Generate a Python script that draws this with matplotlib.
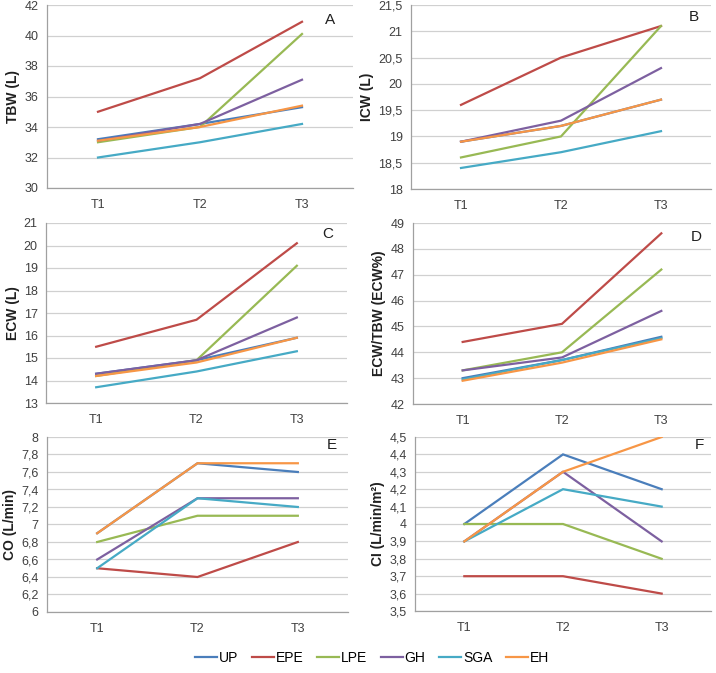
import numpy as np
import matplotlib
matplotlib.use('Agg')
import matplotlib.pyplot as plt
from matplotlib import ticker

plt.rcParams['font.family'] = ['Liberation Sans', 'DejaVu Sans']

times = ['T1', 'T2', 'T3']
groups = ['UP', 'EPE', 'LPE', 'GH', 'SGA', 'EH']
colors = ['#4A7EBB', '#BE4B48', '#98B954', '#7D60A0', '#46AAC5', '#F79646']

# panel A - TBW (L)
tbw = {
    'UP': [33.2, 34.2, 35.3],
    'EPE': [35.0, 37.2, 40.9],
    'LPE': [33.0, 34.0, 40.1],
    'GH': [33.1, 34.2, 37.1],
    'SGA': [32.0, 33.0, 34.2],
    'EH': [33.1, 34.0, 35.4],
}
# panel B - ICW (L)
icw = {
    'UP': [18.9, 19.2, 19.7],
    'EPE': [19.6, 20.5, 21.1],
    'LPE': [18.6, 19.0, 21.1],
    'GH': [18.9, 19.3, 20.3],
    'SGA': [18.4, 18.7, 19.1],
    'EH': [18.9, 19.2, 19.7],
}
# panel C - ECW (L)
ecw = {
    'UP': [14.3, 14.9, 15.9],
    'EPE': [15.5, 16.7, 20.1],
    'LPE': [14.2, 14.9, 19.1],
    'GH': [14.3, 14.9, 16.8],
    'SGA': [13.7, 14.4, 15.3],
    'EH': [14.2, 14.8, 15.9],
}
# panel D - ECW/TBW (ECW%)
ecw_pct = {
    'UP': [43.0, 43.7, 44.6],
    'EPE': [44.4, 45.1, 48.6],
    'LPE': [43.3, 44.0, 47.2],
    'GH': [43.3, 43.8, 45.6],
    'SGA': [42.95, 43.7, 44.55],
    'EH': [42.9, 43.6, 44.5],
}
# panel E - CO (L/min)
co = {
    'UP': [6.9, 7.7, 7.6],
    'EPE': [6.5, 6.4, 6.8],
    'LPE': [6.8, 7.1, 7.1],
    'GH': [6.6, 7.3, 7.3],
    'SGA': [6.5, 7.3, 7.2],
    'EH': [6.9, 7.7, 7.7],
}
# panel F - CI (L/min/m²)
ci = {
    'UP': [4.0, 4.4, 4.2],
    'EPE': [3.7, 3.7, 3.6],
    'LPE': [4.0, 4.0, 3.8],
    'GH': [3.9, 4.3, 3.9],
    'SGA': [3.9, 4.2, 4.1],
    'EH': [3.9, 4.3, 4.5],
}

W, H = 716, 673
fig = plt.figure(figsize=(W / 100, H / 100), dpi=100)

# (data, ylabel, letter, ylim, ystep, pixel box l, r, top, bottom, letter pos)
panels = [
    (tbw, 'TBW (L)', 'A', (30, 42), 2, (47, 353, 5, 188), (0.925, 0.92)),
    (icw, 'ICW (L)', 'B', (18, 21.5), 0.5, (411, 711, 5, 189), (0.943, 0.935)),
    (ecw, 'ECW (L)', 'C', (13, 21), 1, (46, 347, 223, 403), (0.937, 0.94)),
    (ecw_pct, 'ECW/TBW (ECW%)', 'D', (42, 49), 1, (413, 711, 223, 404), (0.95, 0.92)),
    (co, 'CO (L/min)', 'E', (6, 8), 0.2, (47, 348, 437, 612), (0.947, 0.954)),
    (ci, 'CI (L/min/m²)', 'F', (3.5, 4.5), 0.1, (415, 711, 437, 611), (0.96, 0.954)),
]

fmt = ticker.FuncFormatter(lambda v, p: f'{round(v, 2):g}'.replace('.', ','))

for data, ylab, letter, ylim, step, box, lpos in panels:
    l, r, t, b = box
    ax = fig.add_axes([l / W, 1 - b / H, (r - l) / W, (b - t) / H])
    x = np.arange(len(times))
    for g, c in zip(groups, colors):
        ax.plot(x, data[g], color=c, lw=1.6, label=g, solid_joinstyle='miter')
    ax.set_xlim(-0.5, 2.5)
    ax.set_ylim(*ylim)
    ax.set_yticks(np.arange(ylim[0], ylim[1] + step / 2, step))
    ax.yaxis.set_major_formatter(fmt)
    ax.set_xticks(x)
    ax.set_xticklabels(times)
    ax.grid(axis='y', color='#D0D0D0', lw=0.9)
    ax.set_axisbelow(True)
    for s in ['top', 'right']:
        ax.spines[s].set_visible(False)
    for s in ['left', 'bottom']:
        ax.spines[s].set_color('#A0A0A0')
        ax.spines[s].set_linewidth(0.9)
    ax.tick_params(length=0, labelsize=9, colors='#404040')
    ax.tick_params(axis='x', pad=8)
    ax.tick_params(axis='y', pad=6)
    ax.set_ylabel(ylab, fontsize=10, fontweight='bold', color='#202020', labelpad=3)
    ax.text(lpos[0], lpos[1], letter, transform=ax.transAxes, ha='center',
            va='center', fontsize=11, color='#202020')

handles, labels = ax.get_legend_handles_labels()
fig.legend(handles, labels, loc='center', bbox_to_anchor=(372 / W, 1 - 658 / H),
           ncol=6, frameon=False, fontsize=10, handlelength=1.6,
           handletextpad=0.1, columnspacing=1.0)

fig.savefig('out.png', dpi=100)
